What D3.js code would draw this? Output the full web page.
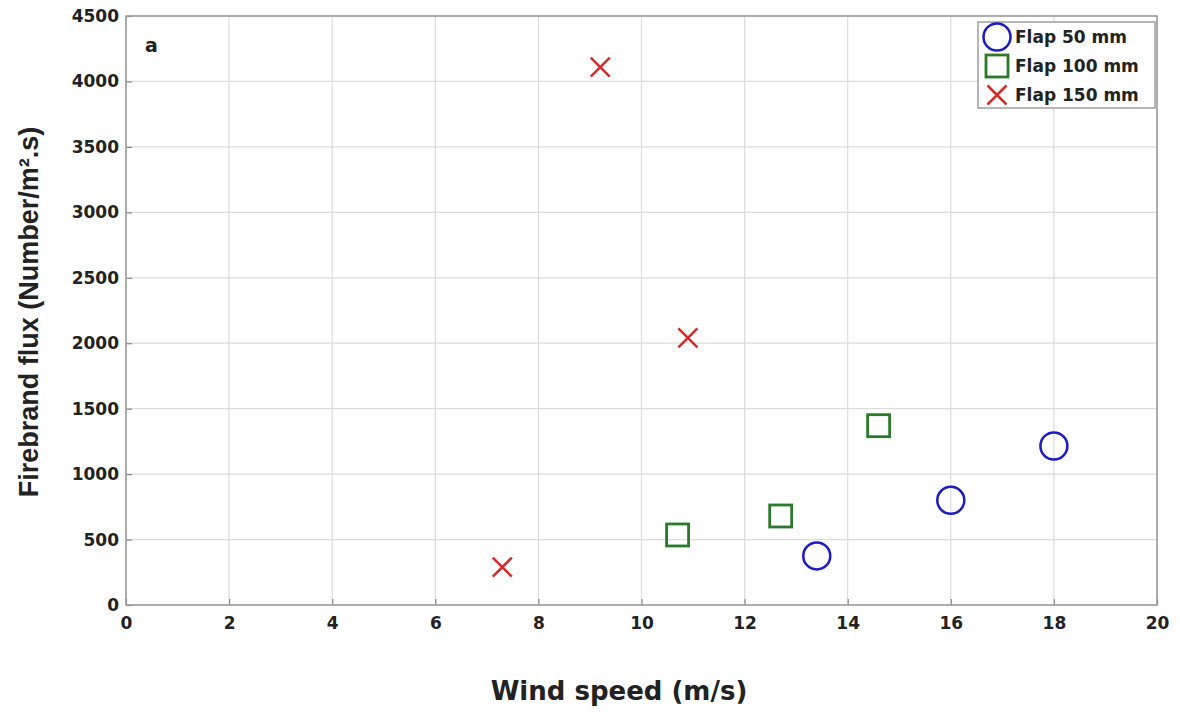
<!DOCTYPE html>
<html lang="en">
<head>
    <meta charset="UTF-8">
    <title>firebrand flux</title>
    <script src="https://cdn.jsdelivr.net/npm/d3@7/dist/d3.min.js"></script>
    <style>
        body { margin: 0; background: #fff; }
        text { font-family: "DejaVu Sans", Arial, sans-serif; font-weight: bold; }
    </style>
</head>
<body>
    <svg width="1180" height="715" id="mainsvg"></svg>
    <script>
        // data
        const flap50X = [13.4, 16.0, 18.0]
        const flap50Y = [375, 800, 1215]
        const flap100X = [10.7, 12.7, 14.6]
        const flap100Y = [535, 680, 1370]
        const flap150X = [7.3, 9.2, 10.9]
        const flap150Y = [290, 4110, 2040]
        const xTicks = [0, 2, 4, 6, 8, 10, 12, 14, 16, 18, 20]
        const yTicks = [0, 500, 1000, 1500, 2000, 2500, 3000, 3500, 4000, 4500]
        const seriesNames = ['Flap 50 mm', 'Flap 100 mm', 'Flap 150 mm']

        const svg = d3.select('#mainsvg')
        const margin = { top: 16, right: 23, bottom: 110, left: 126 }
        const innerWidth = 1180 - margin.left - margin.right
        const innerHeight = 715 - margin.top - margin.bottom
        const g = svg.append('g').attr('transform', `translate(${margin.left}, ${margin.top})`)

        const xScale = d3.scaleLinear().domain([0, 20]).range([0, innerWidth])
        const yScale = d3.scaleLinear().domain([0, 4500]).range([innerHeight, 0])

        // grid
        g.selectAll('.vgrid').data(xTicks).join('line')
            .attr('x1', d => xScale(d)).attr('x2', d => xScale(d))
            .attr('y1', 0).attr('y2', innerHeight)
            .attr('stroke', '#dcdcdc').attr('stroke-width', 1.2)
        g.selectAll('.hgrid').data(yTicks).join('line')
            .attr('y1', d => yScale(d)).attr('y2', d => yScale(d))
            .attr('x1', 0).attr('x2', innerWidth)
            .attr('stroke', '#dcdcdc').attr('stroke-width', 1.2)

        // axes (ticks inward)
        const xAxis = d3.axisBottom(xScale).tickValues(xTicks).tickFormat(d3.format('d')).tickSize(-6).tickPadding(12)
        const yAxis = d3.axisLeft(yScale).tickValues(yTicks).tickFormat(d3.format('d')).tickSize(-6).tickPadding(7)
        const gx = g.append('g').attr('transform', `translate(0, ${innerHeight})`).call(xAxis)
        const gy = g.append('g').call(yAxis)
        gx.select('.domain').remove()
        gy.select('.domain').remove()
        svg.selectAll('.tick line').attr('stroke', '#888').attr('stroke-width', 1.2)
        svg.selectAll('.tick text').attr('font-size', 17).attr('fill', '#222')
            .style('font-family', '"DejaVu Sans", Arial, sans-serif').style('font-weight', 'bold')
        gy.selectAll('.tick text').attr('dy', '0.32em')

        // box
        g.append('rect').attr('width', innerWidth).attr('height', innerHeight)
            .attr('fill', 'none').attr('stroke', '#999').attr('stroke-width', 1.5)

        g.append('text').attr('x', 19).attr('y', 36).attr('font-size', 19).attr('fill', '#222').text('a')

        const blue = '#1c1cc0', green = '#2a7a2a', red = '#d42a2a'

        function drawMarker(sel, kind, x, y) {
            if (kind === 0) {
                sel.append('circle').attr('cx', x).attr('cy', y).attr('r', 13.5)
                    .attr('fill', 'none').attr('stroke', blue).attr('stroke-width', 2.5)
            } else if (kind === 1) {
                sel.append('rect').attr('x', x - 11).attr('y', y - 11).attr('width', 22).attr('height', 22)
                    .attr('fill', 'none').attr('stroke', green).attr('stroke-width', 2.8)
            } else {
                const s = 9.5
                sel.append('path').attr('d', `M${x - s},${y - s}L${x + s},${y + s}M${x - s},${y + s}L${x + s},${y - s}`)
                    .attr('fill', 'none').attr('stroke', red).attr('stroke-width', 2.5)
            }
        }

        const allX = [flap50X, flap100X, flap150X]
        const allY = [flap50Y, flap100Y, flap150Y]
        for (let k = 0; k < 3; k++) {
            for (let i = 0; i < allX[k].length; i++) {
                drawMarker(g, k, xScale(allX[k][i]), yScale(allY[k][i]))
            }
        }

        // legend
        const lg = svg.append('g')
        lg.append('rect').attr('x', 978).attr('y', 22).attr('width', 177).attr('height', 86)
            .attr('fill', '#fff').attr('stroke', '#888').attr('stroke-width', 1.2)
        seriesNames.forEach((name, i) => {
            const cy = 37 + i * 29
            drawMarker(lg, i, 997, cy)
            lg.append('text').attr('x', 1015).attr('y', cy).attr('dy', '0.36em')
                .attr('font-size', 17).attr('fill', '#222').text(name)
        })

        // axis labels
        svg.append('text').attr('x', 619).attr('y', 700).attr('text-anchor', 'middle')
            .attr('font-size', 26).attr('fill', '#222').text('Wind speed (m/s)')
        svg.append('text').attr('transform', 'translate(38, 312) rotate(-90)').attr('text-anchor', 'middle')
            .attr('font-size', 27).attr('fill', '#222')
            .style('font-family', '"Liberation Sans", Arial, sans-serif')
            .text('Firebrand flux (Number/m².s)')
    </script>
</body>
</html>
